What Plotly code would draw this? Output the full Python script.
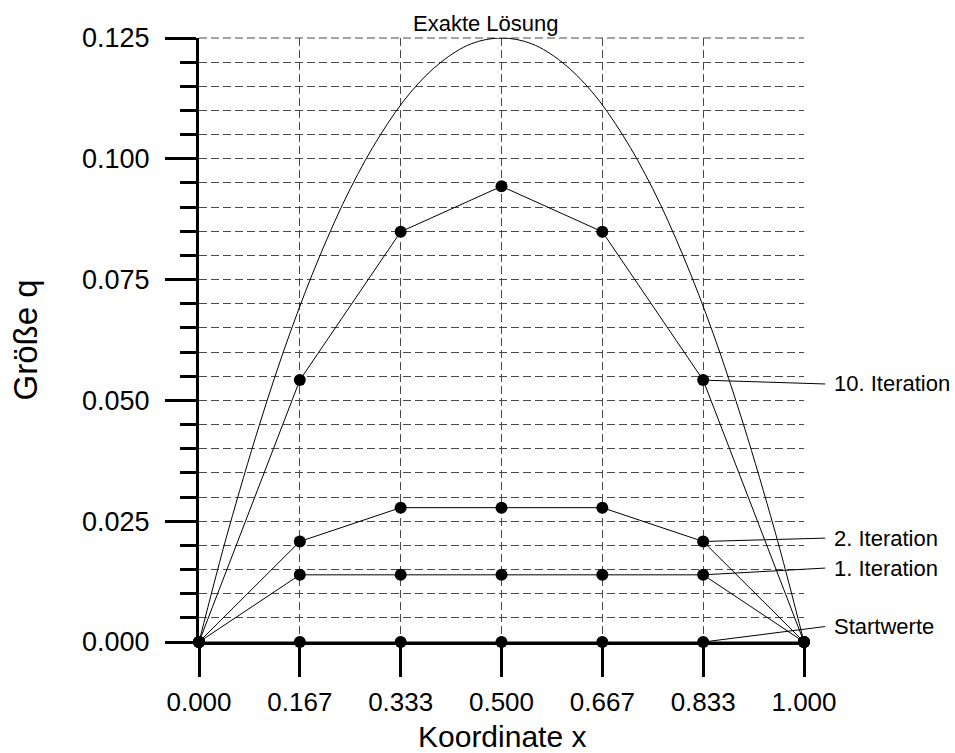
import plotly.graph_objects as go

# ---- data ----
x_nodes = [0, 1/6, 2/6, 3/6, 4/6, 5/6, 1]
x_ticktext = ["0.000", "0.167", "0.333", "0.500", "0.667", "0.833", "1.000"]
q_start = [0, 0, 0, 0, 0, 0, 0]
q_iter1 = [0, 0.0139, 0.0139, 0.0139, 0.0139, 0.0139, 0]
q_iter2 = [0, 0.0208, 0.0278, 0.0278, 0.0278, 0.0208, 0]
q_iter10 = [0, 0.0542, 0.0849, 0.0943, 0.0849, 0.0542, 0]

x_exact = [0, 0.025, 0.05, 0.1, 0.15, 0.2, 0.25, 0.3, 0.35, 0.4, 0.45, 0.5,
           0.55, 0.6, 0.65, 0.7, 0.75, 0.8, 0.85, 0.9, 0.95, 0.975, 1]
q_exact = [0, 0.0122, 0.0238, 0.045, 0.0638, 0.080, 0.0938, 0.105, 0.1138, 0.120, 0.1238, 0.125,
           0.1238, 0.120, 0.1138, 0.105, 0.0938, 0.080, 0.0638, 0.045, 0.0238, 0.0122, 0]

labels = ["10. Iteration", "2. Iteration", "1. Iteration", "Startwerte"]
label_point_q = [0.0542, 0.0208, 0.0139, 0.0]
label_text_q = [0.0534, 0.0215, 0.0153, 0.0032]
exact_label = "Exakte Lösung"
x_title = "Koordinate x"
y_title = "Größe q"

FONT = "Liberation Sans, Arial, sans-serif"
GRID = "#4a4a4a"
DASH = "8px,4px"

fig = go.Figure()

fig.add_trace(go.Scatter(x=x_exact, y=q_exact, mode="lines",
                         line=dict(color="black", width=1, shape="spline", smoothing=1.0),
                         hoverinfo="skip", cliponaxis=False))
for q in [q_start, q_iter1, q_iter2, q_iter10]:
    fig.add_trace(go.Scatter(x=x_nodes, y=q, mode="lines+markers",
                             line=dict(color="black", width=1),
                             marker=dict(color="black", size=12),
                             cliponaxis=False))

for lab, qp, qt in zip(labels, label_point_q, label_text_q):
    fig.add_annotation(x=5/6, y=qp, ax=1.035, ay=qt, axref="x", ayref="y",
                       xref="x", yref="y", text=lab, showarrow=True,
                       arrowhead=0, arrowwidth=1, arrowcolor="black", standoff=0,
                       xanchor="left", borderpad=8,
                       font=dict(family=FONT, size=22, color="black"))

fig.add_annotation(x=0.474, y=1, xref="x", yref="paper", text=exact_label,
                   showarrow=False, yanchor="bottom", yshift=0,
                   font=dict(family=FONT, size=22, color="black"))

# x-axis title placed as annotation for precise position
fig.add_annotation(x=0.5, y=0, xref="paper", yref="paper", text=x_title,
                   showarrow=False, yanchor="middle", yshift=-94,
                   font=dict(family=FONT, size=30, color="black"))

# dashed top border (grid line at the upper range limit)
fig.add_shape(type="line", xref="paper", yref="paper", x0=0, x1=1, y0=1, y1=1,
              line=dict(color=GRID, width=1, dash=DASH), layer="below")

fig.update_layout(
    width=955, height=753,
    margin=dict(l=199, r=151, t=38, b=111, autoexpand=False),
    paper_bgcolor="white", plot_bgcolor="white",
    showlegend=False,
    font=dict(family=FONT, color="black"),
)

fig.update_xaxes(
    range=[0, 1], tickvals=x_nodes, ticktext=x_ticktext,
    showline=True, linecolor="black", linewidth=3,
    ticks="outside", ticklen=32, tickwidth=3, tickcolor="black",
    tickfont=dict(family=FONT, size=26), ticklabelstandoff=3,
    showgrid=True, gridcolor=GRID, gridwidth=1, griddash=DASH,
    zeroline=False,
)
fig.update_yaxes(
    range=[0, 0.125], tick0=0, dtick=0.025, tickformat=".3f",
    showline=True, linecolor="black", linewidth=3,
    ticks="outside", ticklen=31, tickwidth=3, tickcolor="black",
    tickfont=dict(family=FONT, size=27), ticklabelstandoff=10,
    showgrid=True, gridcolor=GRID, gridwidth=1, griddash=DASH,
    zeroline=False,
    minor=dict(tick0=0, dtick=0.005, ticks="outside", ticklen=16, tickwidth=3,
               tickcolor="black", showgrid=True, gridcolor=GRID, gridwidth=1,
               griddash=DASH),
    title=dict(text=y_title, font=dict(family=FONT, size=33), standoff=35),
)

fig.write_html("out.html")
